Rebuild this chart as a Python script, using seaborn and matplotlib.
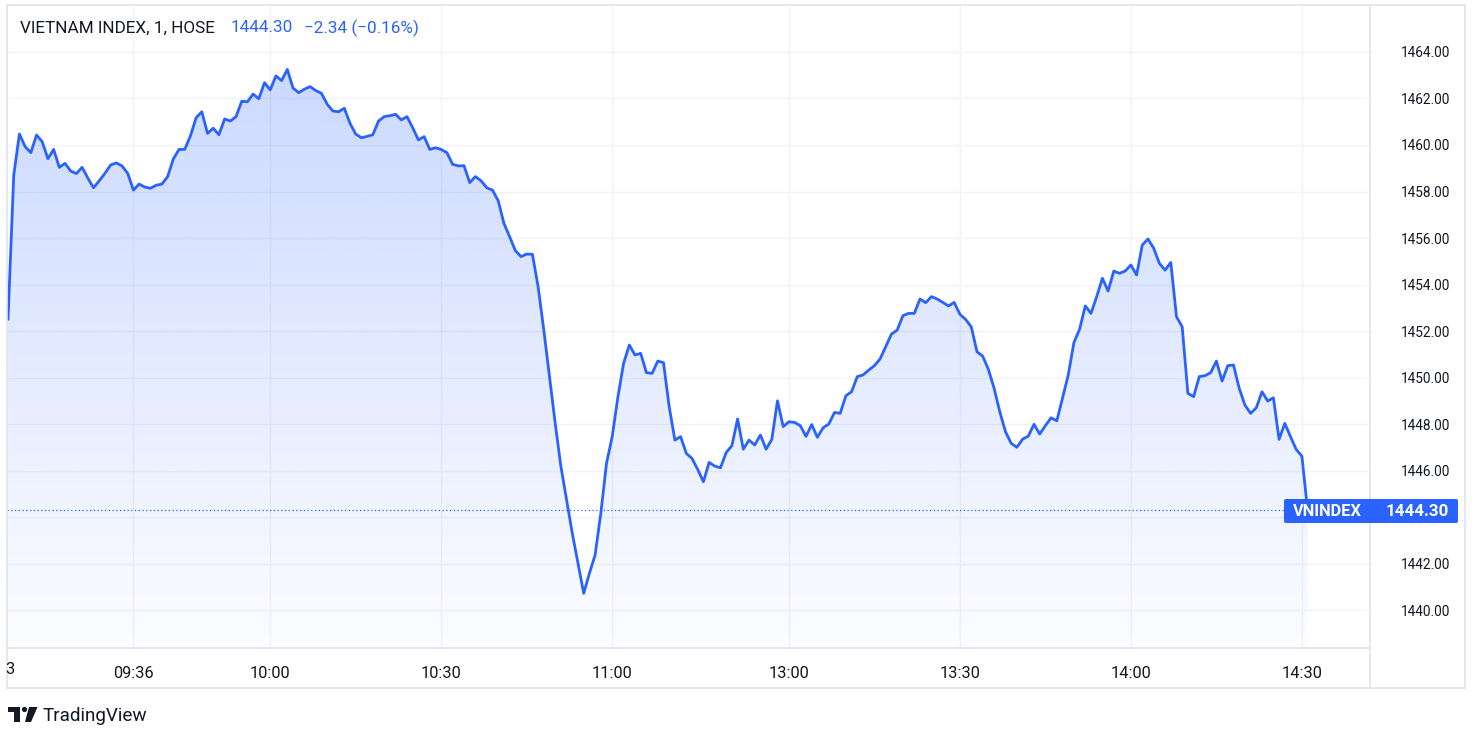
import numpy as np
import pandas as pd
import seaborn as sns
import matplotlib.pyplot as plt
from matplotlib.colors import to_rgb
from matplotlib.patches import FancyBboxPatch, Polygon, Circle
from matplotlib.lines import Line2D

# -----------------------------
# DATA (1-minute closes)
# -----------------------------
price = [
    1452.50, 1458.70, 1460.47, 1459.93, 1459.67, 1460.43, 1460.14, 1459.41, 1459.81, 1459.04,
    1459.21, 1458.88, 1458.77, 1459.04, 1458.58, 1458.16, 1458.46, 1458.78, 1459.14, 1459.23,
    1459.10, 1458.78, 1458.06, 1458.32, 1458.19, 1458.14, 1458.27, 1458.32, 1458.64, 1459.40,
    1459.81, 1459.81, 1460.39, 1461.17, 1461.43, 1460.50, 1460.72, 1460.44, 1461.12, 1461.03,
    1461.22, 1461.88, 1461.86, 1462.19, 1461.99, 1462.68, 1462.37, 1462.97, 1462.77, 1463.25,
    1462.45, 1462.25, 1462.40, 1462.51, 1462.34, 1462.22, 1461.75, 1461.46, 1461.43, 1461.58,
    1460.93, 1460.47, 1460.31, 1460.37, 1460.44, 1461.03, 1461.22, 1461.26, 1461.32, 1461.08,
    1461.22, 1460.74, 1460.22, 1460.36, 1459.81, 1459.88, 1459.81, 1459.67, 1459.17, 1459.10,
    1459.11, 1458.38, 1458.64, 1458.46, 1458.16, 1458.06, 1457.60, 1456.63, 1456.06, 1455.46,
    1455.20, 1455.31, 1455.30, 1453.91, 1452.04, 1450.04, 1448.03, 1446.17, 1444.73, 1443.30,
    1442.01, 1440.72, 1441.58, 1442.37, 1444.16, 1446.31, 1447.46, 1449.17, 1450.61, 1451.40,
    1450.97, 1451.04, 1450.21, 1450.18, 1450.71, 1450.64, 1448.74, 1447.31, 1447.46, 1446.74,
    1446.52, 1446.05, 1445.52, 1446.35, 1446.19, 1446.12, 1446.78, 1447.07, 1448.22, 1446.92,
    1447.31, 1447.10, 1447.53, 1446.92, 1447.34, 1449.00, 1447.89, 1448.10, 1448.07, 1447.93,
    1447.47, 1447.98, 1447.43, 1447.84, 1448.00, 1448.50, 1448.46, 1449.22, 1449.39, 1450.04,
    1450.11, 1450.32, 1450.51, 1450.80, 1451.33, 1451.87, 1452.04, 1452.66, 1452.76, 1452.76,
    1453.38, 1453.22, 1453.48, 1453.38, 1453.23, 1453.08, 1453.23, 1452.72, 1452.50, 1452.18,
    1451.11, 1450.92, 1450.35, 1449.54, 1448.53, 1447.67, 1447.17, 1447.00, 1447.35, 1447.48,
    1447.99, 1447.57, 1447.93, 1448.27, 1448.14, 1449.11, 1450.10, 1451.50, 1452.08, 1453.08,
    1452.76, 1453.48, 1454.27, 1453.72, 1454.58, 1454.48, 1454.58, 1454.84, 1454.41, 1455.70,
    1455.96, 1455.56, 1454.91, 1454.62, 1454.95, 1452.62, 1452.18, 1449.32, 1449.18, 1450.04,
    1450.08, 1450.21, 1450.71, 1449.85, 1450.51, 1450.54, 1449.54, 1448.82, 1448.46, 1448.70,
    1449.39, 1448.99, 1449.13, 1447.34, 1448.03, 1447.46, 1446.91, 1446.62, 1444.30,
]
time_tick_bars = [22, 46, 76, 106, 137, 167, 197, 227]
time_tick_labels = ["09:36", "10:00", "10:30", "11:00", "13:00", "13:30", "14:00", "14:30"]
price_ticks = [1440, 1442, 1444, 1446, 1448, 1450, 1452, 1454, 1456, 1458, 1460, 1462, 1464]

symbol = "VNINDEX"
title_text = "VIETNAM INDEX, 1, HOSE"
last_price = 1444.30
change = -2.34
change_pct = -0.16

df = pd.DataFrame({"bar": np.arange(len(price)), "close": price})

# -----------------------------
# STYLE
# -----------------------------
BLUE = "#2962ff"
TEXT = "#131722"
GRID = "#f0f3fa"
BORDER = "#e0e3eb"
W, H = 1481, 742

sns.set_theme(style="white")
plt.rcParams["font.family"] = ["Roboto", "DejaVu Sans"]

fig = plt.figure(figsize=(W / 100, H / 100), dpi=100)
fig.patch.set_facecolor("white")

# pane: x 7..1370 px, y 5..648 px
ax = fig.add_axes([7 / W, 1 - 648 / H, (1370 - 7) / W, (648 - 5) / H])
x_min, x_max = -0.18, 238.95
y_min, y_max = 1438.37, 1466.02

# gradient area under the line
fill = ax.fill_between(df["bar"], df["close"], y_min, color="none", lw=0)
top_val = max(price)
n = 256
grad = np.zeros((n, 1, 4))
grad[..., :3] = to_rgb(BLUE)
grad[:, 0, 3] = np.linspace(0.24, 0.015, n)
im = ax.imshow(grad, extent=[x_min, x_max, y_min, top_val], origin="upper",
               aspect="auto", zorder=1, interpolation="bilinear")
im.set_clip_path(fill.get_paths()[0], transform=ax.transData)

sns.lineplot(data=df, x="bar", y="close", ax=ax, color=BLUE, lw=2.0,
             zorder=3, solid_joinstyle="round")

ax.axhline(last_price, color=BLUE, lw=0.9, ls=(0, (1, 2)), zorder=2)

ax.set_xlim(x_min, x_max)
ax.set_ylim(y_min, y_max)
ax.set_xlabel("")
ax.set_ylabel("")

ax.set_xticks(time_tick_bars)
ax.set_xticklabels(time_tick_labels)
ax.set_yticks(price_ticks)
# the 1444.00 label sits under the last-price badge
ax.set_yticklabels(["" if abs(v - last_price) < 1 else f"{v:.2f}" for v in price_ticks])
ax.yaxis.tick_right()
ax.tick_params(axis="x", length=0, pad=13, labelsize=11.8, labelcolor=TEXT)
ax.tick_params(axis="y", length=0, pad=22, labelsize=9.8, labelcolor=TEXT)
ax.grid(True, color=GRID, lw=1)
ax.set_axisbelow(True)
for s in ax.spines.values():
    s.set_visible(False)

# -----------------------------
# OVERLAY (pixel coordinates)
# -----------------------------
ov = fig.add_axes([0, 0, 1, 1])
ov.set_xlim(0, W)
ov.set_ylim(H, 0)
ov.axis("off")
ov.patch.set_alpha(0)

# frame lines
for xs, ys in [([7, 1465], [5, 5]), ([7, 1465], [688, 688]), ([7, 7], [5, 688]),
               ([1465, 1465], [5, 688]), ([1370, 1370], [5, 688]), ([7, 1370], [648, 648])]:
    ov.add_line(Line2D(xs, ys, color=BORDER, lw=1.2, zorder=1))

# cut-off date label at the left of the time scale
ov.text(9.5, 669, "3", ha="center", va="center", fontsize=11.8, color=TEXT)

# legend line
ov.text(20, 28, title_text, ha="left", va="center", fontsize=12.3, color=TEXT)
ov.text(231, 28, f"{last_price:.2f}", ha="left", va="center", fontsize=12.3, color=BLUE)
ov.text(304, 28, f"\u2212{abs(change):.2f} (\u2212{abs(change_pct):.2f}%)",
        ha="left", va="center", fontsize=12.3, color=BLUE)

# last price badge
ov.add_patch(FancyBboxPatch((1284, 499), 174, 24, boxstyle="round,pad=0,rounding_size=2",
                            facecolor=BLUE, edgecolor="none", zorder=4))
ov.text(1293, 511.5, symbol, ha="left", va="center", fontsize=11.8,
        fontweight="bold", color="white", zorder=5)
ov.text(1449, 511.5, f"{last_price:.2f}", ha="right", va="center", fontsize=12.2,
        fontweight="bold", color="white", zorder=5)

# TradingView logo
ov.add_patch(Polygon([(8, 707), (20, 707), (20, 722), (14, 722), (14, 712), (8, 712)],
                     closed=True, facecolor=TEXT, edgecolor="none"))
ov.add_patch(Circle((24.5, 709.5), 2.6, facecolor=TEXT, edgecolor="none"))
ov.add_patch(Polygon([(29, 707), (37.5, 707), (31, 722), (25, 722)],
                     closed=True, facecolor=TEXT, edgecolor="none"))
ov.text(43, 716, "TradingView", ha="left", va="center", fontsize=13.6, color=TEXT)

fig.savefig("out.png", dpi=100)
